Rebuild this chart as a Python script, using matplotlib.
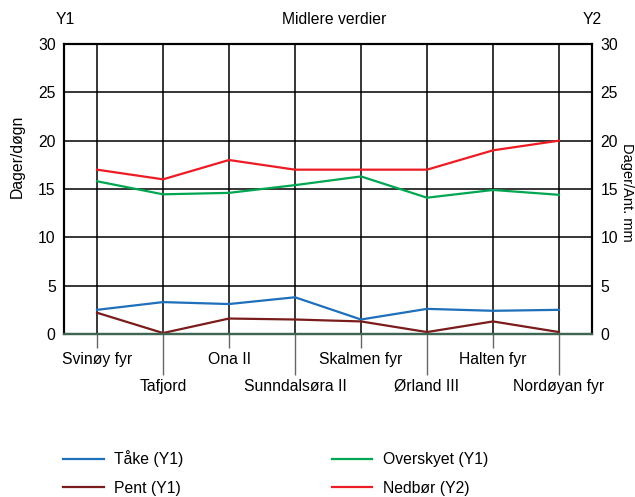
import matplotlib
matplotlib.use("Agg")
import matplotlib.pyplot as plt
from matplotlib.ticker import FixedLocator, FixedFormatter

plt.rcParams['font.family'] = ['Liberation Sans', 'DejaVu Sans']
plt.rcParams['font.size'] = 11.3

stations = ["Svinøy fyr", "Tafjord", "Ona II", "Sunndalsøra II",
            "Skalmen fyr", "Ørland III", "Halten fyr", "Nordøyan fyr"]
take = [2.5, 3.3, 3.1, 3.8, 1.5, 2.6, 2.4, 2.5]
pent = [2.2, 0.1, 1.6, 1.5, 1.3, 0.2, 1.3, 0.2]
overskyet = [15.8, 14.45, 14.6, 15.4, 16.3, 14.1, 14.9, 14.4]
nedbor = [17, 16, 18, 17, 17, 17, 19, 20]

yticks = [0, 5, 10, 15, 20, 25, 30]

fig = plt.figure(figsize=(6.35, 4.97), dpi=100)
ax = fig.add_axes([64/635, 1 - 334/497, 528/635, 290/497])
ax2 = ax.twinx()

x = list(range(len(stations)))
l1, = ax.plot(x, take, color="#1f6fba", lw=1.6, label="Tåke (Y1)")
l2, = ax.plot(x, pent, color="#7b1c1c", lw=1.6, label="Pent (Y1)")
l3, = ax.plot(x, overskyet, color="#00a651", lw=1.6, label="Overskyet (Y1)")
l4, = ax2.plot(x, nedbor, color="#ed1c24", lw=1.6, label="Nedbør (Y2)")

for a in (ax, ax2):
    a.set_xlim(-0.5, len(stations) - 0.5)
    a.set_ylim(0, 30)
    a.set_yticks(yticks)

# vertical grid lines at every station, horizontal at every 5
for i in x:
    ax.axvline(i, color="black", lw=1.1, zorder=0)
for v in yticks[1:-1]:
    ax.axhline(v, color="black", lw=1.1, zorder=0)

# alternating station labels: even on major ticks (short), odd on minor (long)
ax.xaxis.set_major_locator(FixedLocator(x[0::2]))
ax.xaxis.set_major_formatter(FixedFormatter(stations[0::2]))
ax.xaxis.set_minor_locator(FixedLocator(x[1::2]))
ax.xaxis.set_minor_formatter(FixedFormatter(stations[1::2]))
ax.tick_params(axis="x", which="major", length=10, width=1, color="#666666", pad=11.5)
ax.tick_params(axis="x", which="minor", length=29.5, width=1, color="#666666", pad=11.5)
for lab in ax.get_xticklabels(which="both"):
    lab.set_verticalalignment("baseline")
ax.tick_params(axis="y", length=0, pad=6)
ax2.tick_params(axis="y", length=0, pad=6)

for a in (ax, ax2):
    for s in ("left", "right", "top"):
        a.spines[s].set_linewidth(1.5)
        a.spines[s].set_color("black")
    a.spines["bottom"].set_linewidth(1.6)
    a.spines["bottom"].set_color("#3f6652")

fig.text(65/635, 1 - 20/497, "Y1", ha="center", va="center")
fig.text(334/635, 1 - 20/497, "Midlere verdier", ha="center", va="center")
fig.text(592/635, 1 - 20/497, "Y2", ha="center", va="center")
fig.text(17/635, 1 - 156/497, "Dager/døgn", rotation=90, ha="center", va="center")
fig.text(627/635, 1 - 143/497, "Dager/Ant. mm", rotation=-90, ha="center", va="top",
         fontsize=10.5)

fig.legend(handles=[l1, l2, l3, l4], loc="upper left",
           bbox_to_anchor=(57/635, 1 - 444/497), ncol=2, frameon=False,
           handlelength=2.6, handletextpad=0.64, columnspacing=9.45,
           labelspacing=0.85, borderaxespad=0)

fig.savefig("out.png", dpi=100)
